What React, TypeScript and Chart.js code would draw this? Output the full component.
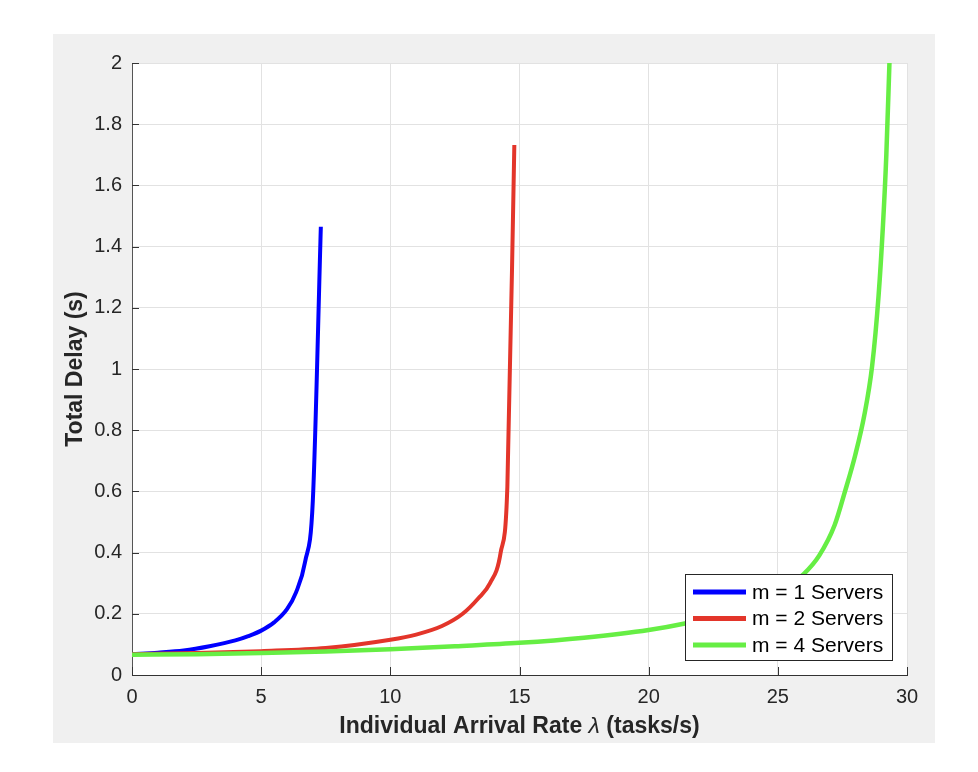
import { useEffect, useRef } from 'react';
import { Chart, registerables } from 'chart.js';

Chart.register(...registerables);

// m = 1 server
const lambdaM1 = [0, 1, 2, 3, 4, 4.5, 5, 5.5, 6, 6.35, 6.7, 7.0, 7.31];
const delayM1 = [0.068, 0.073, 0.08, 0.094, 0.113, 0.127, 0.145, 0.172, 0.215, 0.27, 0.37, 0.57, 1.465];

// m = 2 servers
const lambdaM2 = [0, 2.5, 5, 7.5, 10, 11, 12, 12.8, 13.4, 13.86, 14.27, 14.53, 14.8];
const delayM2 = [0.068, 0.072, 0.078, 0.088, 0.115, 0.132, 0.16, 0.2, 0.25, 0.3, 0.4, 0.615, 1.732];

// m = 4 servers
const lambdaM4 = [0, 2.5, 5, 7.5, 10, 12.5, 15, 17.5, 20, 21.5, 23, 24, 25, 26, 26.6, 27.2, 27.6, 28.0, 28.35, 28.65, 28.9, 29.07, 29.2, 29.32];
const delayM4 = [0.066, 0.068, 0.072, 0.077, 0.084, 0.094, 0.105, 0.122, 0.147, 0.17, 0.2, 0.23, 0.27, 0.33, 0.39, 0.49, 0.6, 0.72, 0.85, 1.01, 1.24, 1.47, 1.7, 2.0];

const seriesLabels = ['m = 1 Servers', 'm = 2 Servers', 'm = 4 Servers'];
const seriesColors = ['#0000ff', '#e3352a', '#66ee44'];

const xTitleParts = ['Individual Arrival Rate ', 'λ', ' (tasks/s)'];
const yTitle = 'Total Delay (s)';

const FONT = '"Liberation Sans", Arial, Helvetica, sans-serif';

const toPoints = (xs: number[], ys: number[]) => xs.map((x, i) => ({ x, y: ys[i] }));

export default function App() {
  const ref = useRef<HTMLCanvasElement | null>(null);

  useEffect(() => {
    if (!ref.current) return;

    const decor = {
      id: 'decor',
      beforeDraw(chart: any) {
        const { ctx, chartArea } = chart;
        ctx.save();
        ctx.fillStyle = '#ffffff';
        ctx.fillRect(0, 0, chart.width, chart.height);
        ctx.fillStyle = '#f0f0f0';
        ctx.fillRect(53, 34, 882, 709);
        ctx.fillStyle = '#ffffff';
        ctx.fillRect(chartArea.left, chartArea.top, chartArea.right - chartArea.left, chartArea.bottom - chartArea.top);
        ctx.restore();
      },
      afterDraw(chart: any) {
        const { ctx, chartArea, scales } = chart;
        const xs = scales.x;
        const ys = scales.y;
        ctx.save();
        // inward tick marks
        ctx.strokeStyle = '#333333';
        ctx.lineWidth = 1;
        xs.ticks.forEach((t: any) => {
          const px = Math.round(xs.getPixelForValue(t.value)) + 0.5;
          ctx.beginPath();
          ctx.moveTo(px, chartArea.bottom);
          ctx.lineTo(px, chartArea.bottom - 8);
          ctx.stroke();
        });
        ys.ticks.forEach((t: any) => {
          const py = Math.round(ys.getPixelForValue(t.value)) + 0.5;
          ctx.beginPath();
          ctx.moveTo(chartArea.left, py);
          ctx.lineTo(chartArea.left + 7, py);
          ctx.stroke();
        });

        // x title (bold with regular lambda)
        ctx.fillStyle = '#262626';
        ctx.textBaseline = 'alphabetic';
        ctx.textAlign = 'left';
        const fonts = [`bold 23px ${FONT}`, `italic 23px ${FONT}`, `bold 23px ${FONT}`];
        let total = 0;
        const widths = xTitleParts.map((p, i) => {
          ctx.font = fonts[i];
          const w = ctx.measureText(p).width;
          total += w;
          return w;
        });
        let x0 = (chartArea.left + chartArea.right) / 2 - total / 2;
        xTitleParts.forEach((p, i) => {
          ctx.font = fonts[i];
          ctx.fillText(p, x0, 733);
          x0 += widths[i];
        });

        // y title
        ctx.save();
        ctx.translate(82, (chartArea.top + chartArea.bottom) / 2);
        ctx.rotate(-Math.PI / 2);
        ctx.font = `bold 23px ${FONT}`;
        ctx.textAlign = 'center';
        ctx.fillText(yTitle, 0, 0);
        ctx.restore();

        // legend
        const bx = 685.5, by = 574.5, bw = 207, bh = 86;
        ctx.fillStyle = '#ffffff';
        ctx.fillRect(bx, by, bw, bh);
        ctx.strokeStyle = '#262626';
        ctx.lineWidth = 1;
        ctx.strokeRect(bx, by, bw, bh);
        const rows = [592, 618.5, 645];
        ctx.font = `21px ${FONT}`;
        ctx.textBaseline = 'middle';
        ctx.textAlign = 'left';
        rows.forEach((ry, i) => {
          ctx.strokeStyle = seriesColors[i];
          ctx.lineWidth = 5;
          ctx.beginPath();
          ctx.moveTo(693, ry);
          ctx.lineTo(746, ry);
          ctx.stroke();
          ctx.fillStyle = '#000000';
          ctx.fillText(seriesLabels[i], 752, ry + 1);
        });
        ctx.restore();
      },
    };

    const chart = new Chart(ref.current, {
      type: 'line',
      data: {
        datasets: [
          {
            label: seriesLabels[0],
            data: toPoints(lambdaM1, delayM1),
            borderColor: seriesColors[0],
            borderWidth: 4,
            pointRadius: 0,
            cubicInterpolationMode: 'monotone',
            order: 3,
          },
          {
            label: seriesLabels[1],
            data: toPoints(lambdaM2, delayM2),
            borderColor: seriesColors[1],
            borderWidth: 4,
            pointRadius: 0,
            cubicInterpolationMode: 'monotone',
            order: 2,
          },
          {
            label: seriesLabels[2],
            data: toPoints(lambdaM4, delayM4),
            borderColor: seriesColors[2],
            borderWidth: 4.5,
            pointRadius: 0,
            cubicInterpolationMode: 'monotone',
            order: 1,
          },
        ],
      },
      options: {
        responsive: false,
        animation: false,
        events: [],
        layout: { padding: { top: 63, right: 71, left: 0, bottom: 0 } },
        plugins: { legend: { display: false }, tooltip: { enabled: false } },
        scales: {
          x: {
            type: 'linear',
            min: 0,
            max: 30,
            ticks: {
              stepSize: 5,
              padding: 10,
              color: '#262626',
              font: { family: FONT, size: 20 },
              maxRotation: 0,
            },
            grid: { color: '#e2e2e2', drawTicks: false, lineWidth: 1 },
            border: { display: true, color: '#333333', width: 1 },
            afterFit: (s: any) => { s.height = 97; },
          },
          y: {
            type: 'linear',
            min: 0,
            max: 2,
            ticks: {
              stepSize: 0.2,
              padding: 10,
              color: '#262626',
              font: { family: FONT, size: 20 },
              callback: (v: any) => String(Math.round(Number(v) * 10) / 10),
            },
            grid: { color: '#e2e2e2', drawTicks: false, lineWidth: 1 },
            border: { display: true, color: '#555555', width: 1 },
            afterFit: (s: any) => { s.width = 132; },
          },
        },
      },
      plugins: [decor],
    });

    return () => chart.destroy();
  }, []);

  return (
    <div style={{ position: 'absolute', left: 0, top: 0, width: 978, height: 772 }}>
      <canvas ref={ref} width={978} height={772} style={{ display: 'block' }} />
    </div>
  );
}
